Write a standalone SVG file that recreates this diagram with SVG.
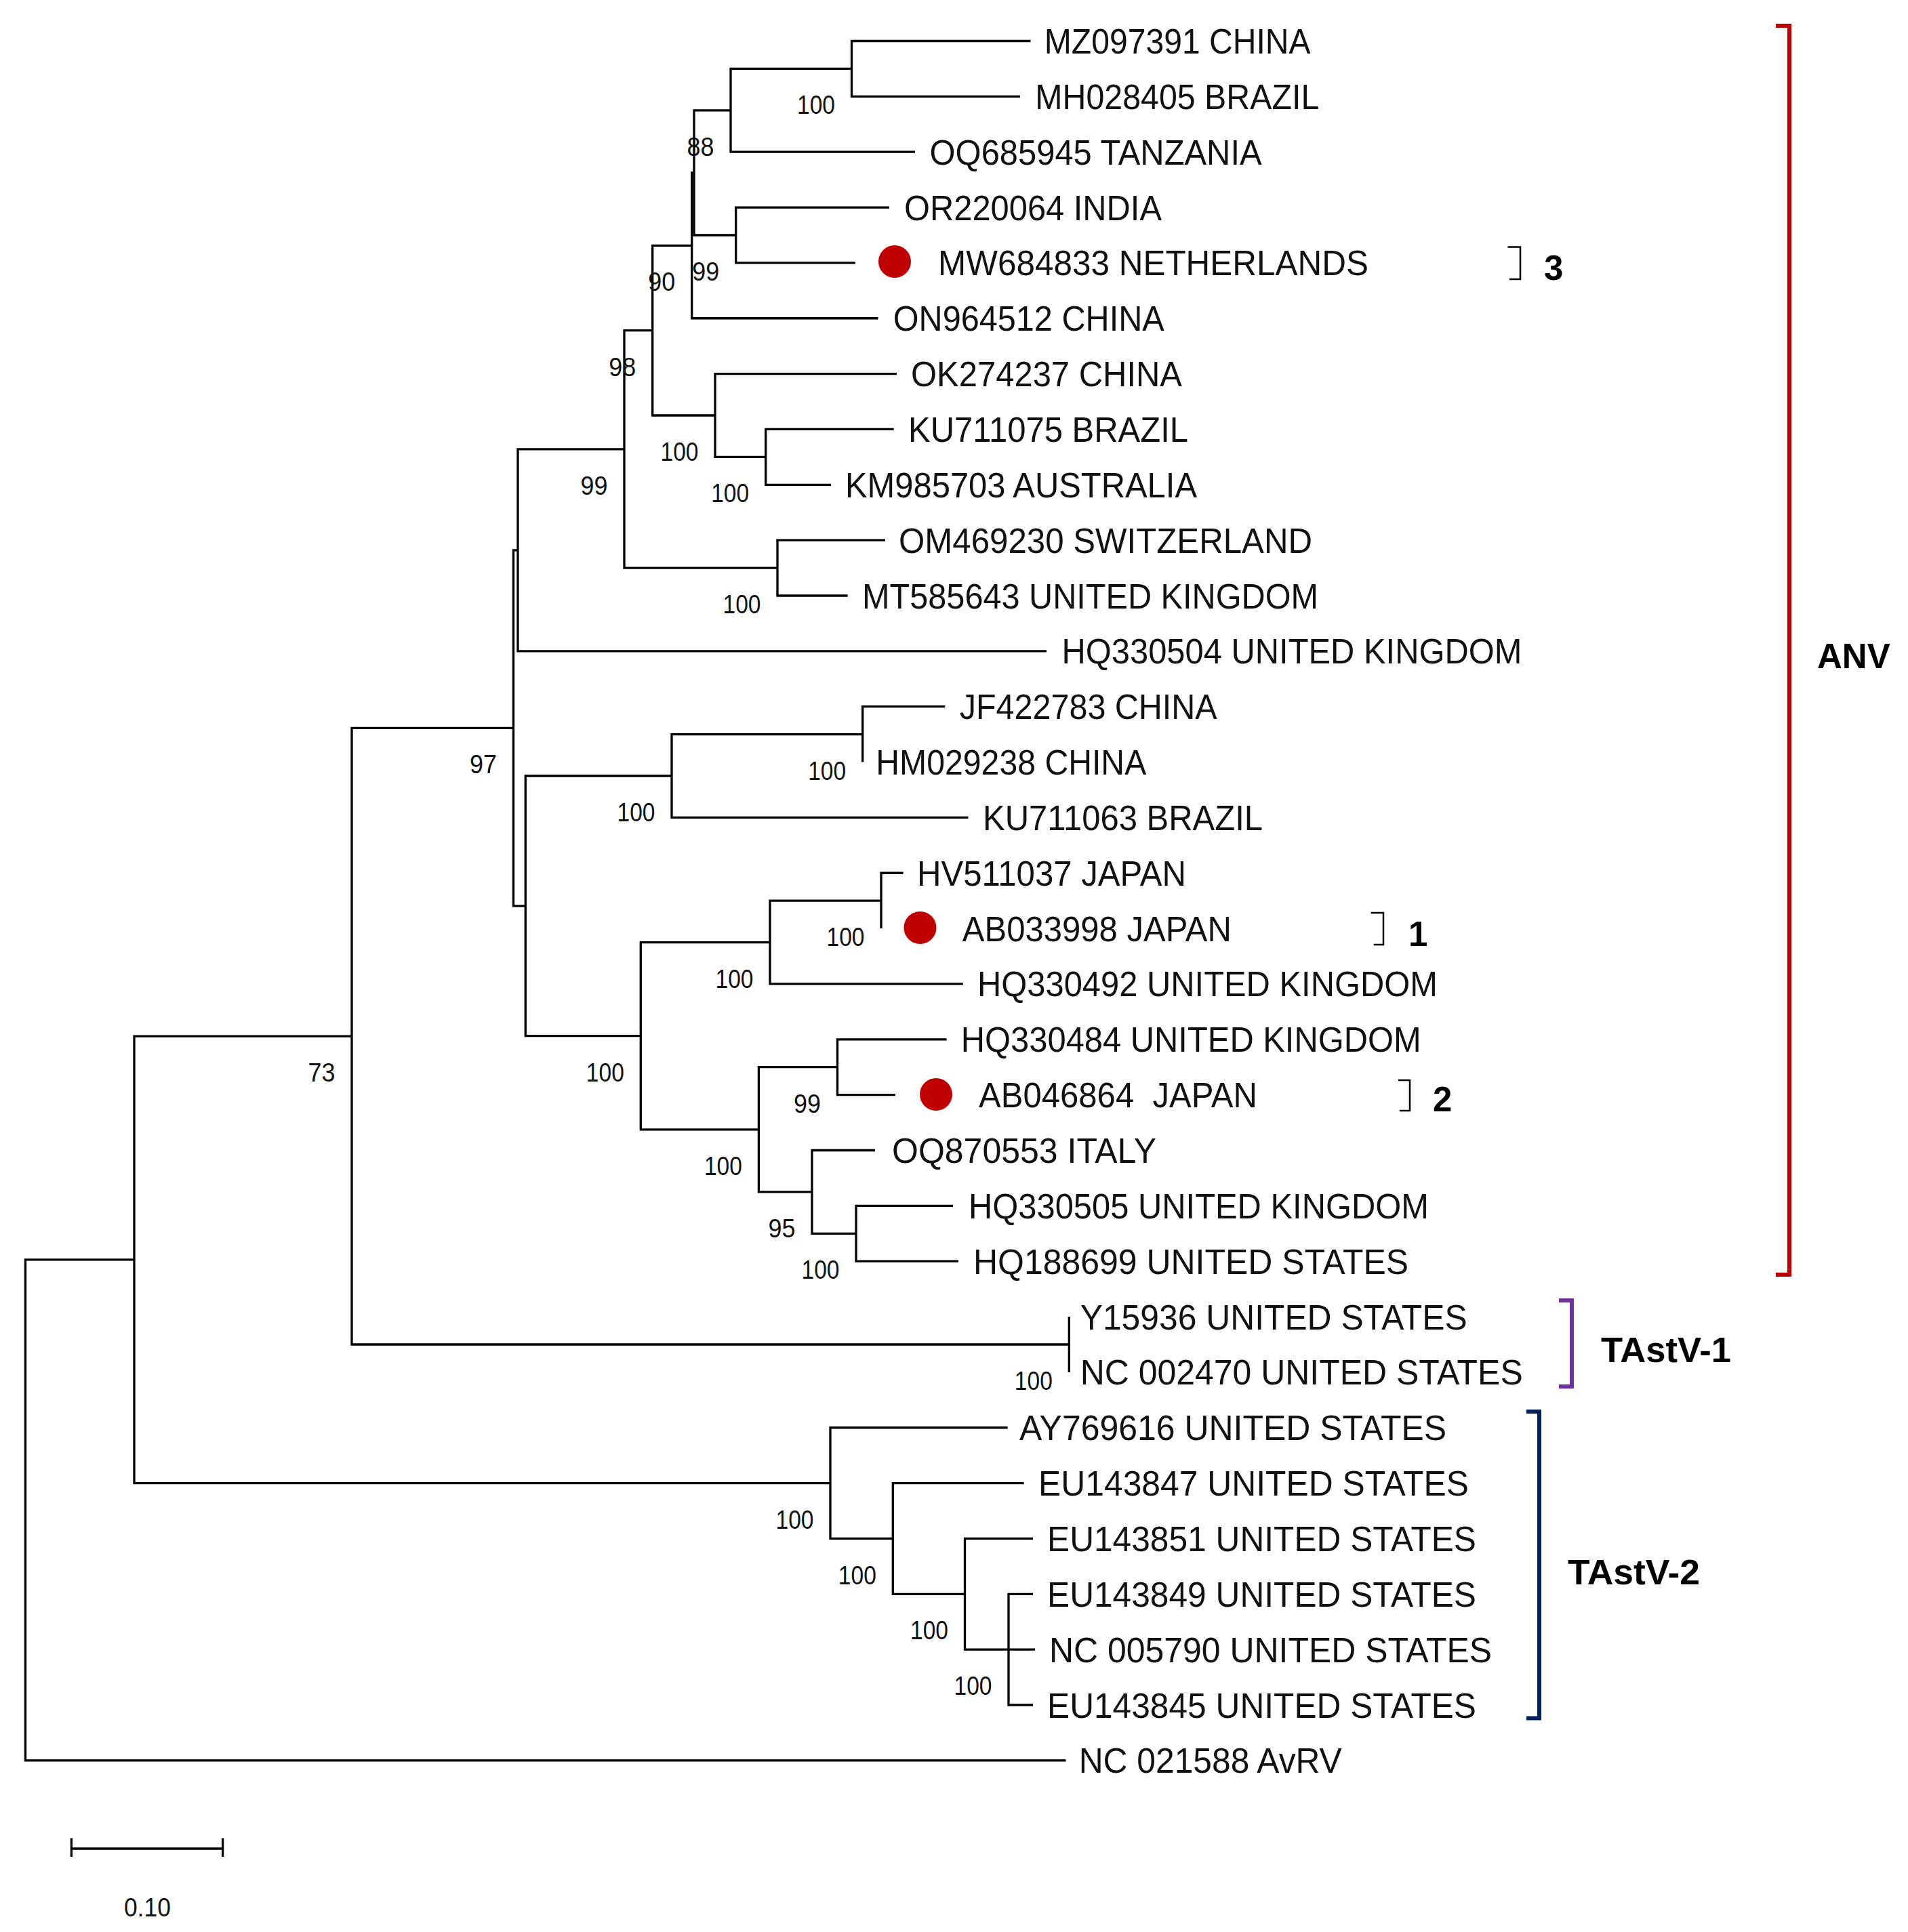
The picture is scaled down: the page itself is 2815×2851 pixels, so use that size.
<svg xmlns="http://www.w3.org/2000/svg" width="2815" height="2851" viewBox="0 0 2815 2851">
<style>
.br{fill:none;stroke:#000;stroke-width:3.3;stroke-linejoin:miter;stroke-linecap:butt}
.lf{font-family:"Liberation Sans",Arial,sans-serif;font-size:51px;fill:#111}
.bs{font-family:"Liberation Sans",Arial,sans-serif;font-size:38px;fill:#111;text-anchor:end}
.gl{font-family:"Liberation Sans",Arial,sans-serif;font-weight:bold;font-size:51px;fill:#000}
.dot{fill:#c00000}
.sb{fill:none;stroke:#000;stroke-width:2.5}
</style>
<rect width="2815" height="2851" fill="#fff"/>
<g id="connectors">
<path class="br" d="M1572.5 2597.85 H37.5 V1858.9 H198"/>
<path class="br" d="M519 1529.2 H198 V2188.6 H1225"/>
<path class="br" d="M757.5 1074.4 H519 V1984 H1577.3"/>
<path class="br" d="M1577.3 1943 V2025"/>
<path class="br" d="M1486.7 2106.75 H1225 V2270.45 H1317.3"/>
<path class="br" d="M1510.7 2188.6 H1317.3 V2352.3 H1423.5"/>
<path class="br" d="M1524 2270.45 H1423.5 V2434.15 H1488"/>
<path class="br" d="M1524 2352.3 H1488 V2516 H1524 M1488 2434.15 H1527"/>
<path class="br" d="M764 811.9 H757.5 V1336.9 H775.3"/>
<path class="br" d="M921 662.9 H764 V960.85 H1544"/>
<path class="br" d="M962.7 487.6 H921 V838.1 H1147"/>
<path class="br" d="M1020.7 362.3 H962.7 V613 H1055"/>
<path class="br" d="M1024 254.9 H1020.7 V469.75 H1295.5"/>
<path class="br" d="M1078 162.8 H1024 V347 H1085.7"/>
<path class="br" d="M1256.5 101.4 H1078 V224.2 H1350"/>
<path class="br" d="M1520.5 60.5 H1256.5 V142.35 H1505"/>
<path class="br" d="M1312 306.05 H1085.7 V387.9 H1262"/>
<path class="br" d="M1323 551.6 H1055 V674.4 H1129.7"/>
<path class="br" d="M1318.7 633.45 H1129.7 V715.3 H1226"/>
<path class="br" d="M1306 797.15 H1147 V879 H1250.7"/>
<path class="br" d="M991 1145 H775.3 V1528.7 H945.3"/>
<path class="br" d="M1272.7 1083.6 H991 V1206.4 H1428.5"/>
<path class="br" d="M1394.3 1042.7 H1272.7 V1124.55"/>
<path class="br" d="M1136 1390.6 H945.3 V1666.8 H1119.4"/>
<path class="br" d="M1300 1329.2 H1136 V1451.95 H1420.8"/>
<path class="br" d="M1332.5 1288.25 H1300 V1370.1"/>
<path class="br" d="M1235.5 1574.7 H1119.4 V1758.9 H1198"/>
<path class="br" d="M1396.6 1533.8 H1235.5 V1615.65 H1321"/>
<path class="br" d="M1291 1697.5 H1198 V1820.3 H1263"/>
<path class="br" d="M1406 1779.35 H1263 V1861.2 H1414"/>
</g>
<g id="bootstrap">
<text class="bs" x="1232" y="168.4" textLength="56" lengthAdjust="spacingAndGlyphs">100</text>
<text class="bs" x="1053.5" y="229.8" textLength="40" lengthAdjust="spacingAndGlyphs">88</text>
<text class="bs" x="1061.2" y="414" textLength="40" lengthAdjust="spacingAndGlyphs">99</text>
<text class="bs" x="996.2" y="429.3" textLength="40" lengthAdjust="spacingAndGlyphs">90</text>
<text class="bs" x="938.2" y="554.6" textLength="40" lengthAdjust="spacingAndGlyphs">98</text>
<text class="bs" x="896.5" y="729.9" textLength="40" lengthAdjust="spacingAndGlyphs">99</text>
<text class="bs" x="1030.5" y="680" textLength="56" lengthAdjust="spacingAndGlyphs">100</text>
<text class="bs" x="1105.2" y="741.4" textLength="56" lengthAdjust="spacingAndGlyphs">100</text>
<text class="bs" x="1122.5" y="905.1" textLength="56" lengthAdjust="spacingAndGlyphs">100</text>
<text class="bs" x="733" y="1141.4" textLength="40" lengthAdjust="spacingAndGlyphs">97</text>
<text class="bs" x="1248.2" y="1150.6" textLength="56" lengthAdjust="spacingAndGlyphs">100</text>
<text class="bs" x="966.5" y="1212" textLength="56" lengthAdjust="spacingAndGlyphs">100</text>
<text class="bs" x="1275.5" y="1396.2" textLength="56" lengthAdjust="spacingAndGlyphs">100</text>
<text class="bs" x="1111.5" y="1457.6" textLength="56" lengthAdjust="spacingAndGlyphs">100</text>
<text class="bs" x="920.8" y="1595.7" textLength="56" lengthAdjust="spacingAndGlyphs">100</text>
<text class="bs" x="494.5" y="1596.2" textLength="40" lengthAdjust="spacingAndGlyphs">73</text>
<text class="bs" x="1211" y="1641.7" textLength="40" lengthAdjust="spacingAndGlyphs">99</text>
<text class="bs" x="1094.9" y="1733.8" textLength="56" lengthAdjust="spacingAndGlyphs">100</text>
<text class="bs" x="1173.5" y="1825.9" textLength="40" lengthAdjust="spacingAndGlyphs">95</text>
<text class="bs" x="1238.5" y="1887.3" textLength="56" lengthAdjust="spacingAndGlyphs">100</text>
<text class="bs" x="1552.8" y="2051" textLength="56" lengthAdjust="spacingAndGlyphs">100</text>
<text class="bs" x="1200.5" y="2255.6" textLength="56" lengthAdjust="spacingAndGlyphs">100</text>
<text class="bs" x="1292.8" y="2337.5" textLength="56" lengthAdjust="spacingAndGlyphs">100</text>
<text class="bs" x="1399" y="2419.3" textLength="56" lengthAdjust="spacingAndGlyphs">100</text>
<text class="bs" x="1463.5" y="2501" textLength="56" lengthAdjust="spacingAndGlyphs">100</text>
</g>
<g id="leaves">
<g id="leaf-MZ097391"><text class="lf" x="1540.7" y="79" textLength="393" lengthAdjust="spacingAndGlyphs">MZ097391 CHINA</text></g>
<g id="leaf-MH028405"><text class="lf" x="1527.3" y="160.85" textLength="419" lengthAdjust="spacingAndGlyphs">MH028405 BRAZIL</text></g>
<g id="leaf-OQ685945"><text class="lf" x="1371.6" y="242.7" textLength="490" lengthAdjust="spacingAndGlyphs">OQ685945 TANZANIA</text></g>
<g id="leaf-OR220064"><text class="lf" x="1334" y="324.55" textLength="380" lengthAdjust="spacingAndGlyphs">OR220064 INDIA</text></g>
<g id="leaf-MW684833"><circle class="dot" cx="1320" cy="386" r="24"/><text class="lf" x="1384" y="406.4" textLength="635" lengthAdjust="spacingAndGlyphs">MW684833 NETHERLANDS</text></g>
<g id="leaf-ON964512"><text class="lf" x="1317.7" y="488.25" textLength="400" lengthAdjust="spacingAndGlyphs">ON964512 CHINA</text></g>
<g id="leaf-OK274237"><text class="lf" x="1344" y="570.1" textLength="400" lengthAdjust="spacingAndGlyphs">OK274237 CHINA</text></g>
<g id="leaf-KU711075"><text class="lf" x="1340" y="651.95" textLength="413" lengthAdjust="spacingAndGlyphs">KU711075 BRAZIL</text></g>
<g id="leaf-KM985703"><text class="lf" x="1247" y="733.8" textLength="519" lengthAdjust="spacingAndGlyphs">KM985703 AUSTRALIA</text></g>
<g id="leaf-OM469230"><text class="lf" x="1326" y="815.65" textLength="610" lengthAdjust="spacingAndGlyphs">OM469230 SWITZERLAND</text></g>
<g id="leaf-MT585643"><text class="lf" x="1272" y="897.5" textLength="673" lengthAdjust="spacingAndGlyphs">MT585643 UNITED KINGDOM</text></g>
<g id="leaf-HQ330504"><text class="lf" x="1566.5" y="979.35" textLength="679" lengthAdjust="spacingAndGlyphs">HQ330504 UNITED KINGDOM</text></g>
<g id="leaf-JF422783"><text class="lf" x="1415.7" y="1061.2" textLength="380" lengthAdjust="spacingAndGlyphs">JF422783 CHINA</text></g>
<g id="leaf-HM029238"><text class="lf" x="1292.3" y="1143.05" textLength="399" lengthAdjust="spacingAndGlyphs">HM029238 CHINA</text></g>
<g id="leaf-KU711063"><text class="lf" x="1450" y="1224.9" textLength="413" lengthAdjust="spacingAndGlyphs">KU711063 BRAZIL</text></g>
<g id="leaf-HV511037"><text class="lf" x="1353" y="1306.75" textLength="397" lengthAdjust="spacingAndGlyphs">HV511037 JAPAN</text></g>
<g id="leaf-AB033998"><circle class="dot" cx="1357.5" cy="1369" r="24"/><text class="lf" x="1419.8" y="1388.6" textLength="397" lengthAdjust="spacingAndGlyphs">AB033998 JAPAN</text></g>
<g id="leaf-HQ330492"><text class="lf" x="1442" y="1470.45" textLength="679" lengthAdjust="spacingAndGlyphs">HQ330492 UNITED KINGDOM</text></g>
<g id="leaf-HQ330484"><text class="lf" x="1417.8" y="1552.3" textLength="679" lengthAdjust="spacingAndGlyphs">HQ330484 UNITED KINGDOM</text></g>
<g id="leaf-AB046864"><circle class="dot" cx="1381" cy="1615" r="24"/><text class="lf" x="1444" y="1634.15" style="white-space:pre" textLength="411" lengthAdjust="spacingAndGlyphs">AB046864  JAPAN</text></g>
<g id="leaf-OQ870553"><text class="lf" x="1316" y="1716" textLength="390" lengthAdjust="spacingAndGlyphs">OQ870553 ITALY</text></g>
<g id="leaf-HQ330505"><text class="lf" x="1429" y="1797.85" textLength="679" lengthAdjust="spacingAndGlyphs">HQ330505 UNITED KINGDOM</text></g>
<g id="leaf-HQ188699"><text class="lf" x="1436" y="1879.7" textLength="642" lengthAdjust="spacingAndGlyphs">HQ188699 UNITED STATES</text></g>
<g id="leaf-Y15936"><text class="lf" x="1593.7" y="1961.55" textLength="571" lengthAdjust="spacingAndGlyphs">Y15936 UNITED STATES</text></g>
<g id="leaf-NC002470"><text class="lf" x="1593.7" y="2043.4" textLength="653" lengthAdjust="spacingAndGlyphs">NC 002470 UNITED STATES</text></g>
<g id="leaf-AY769616"><text class="lf" x="1504" y="2125.25" textLength="630" lengthAdjust="spacingAndGlyphs">AY769616 UNITED STATES</text></g>
<g id="leaf-EU143847"><text class="lf" x="1532" y="2207.1" textLength="635" lengthAdjust="spacingAndGlyphs">EU143847 UNITED STATES</text></g>
<g id="leaf-EU143851"><text class="lf" x="1545" y="2288.95" textLength="633" lengthAdjust="spacingAndGlyphs">EU143851 UNITED STATES</text></g>
<g id="leaf-EU143849"><text class="lf" x="1545" y="2370.8" textLength="633" lengthAdjust="spacingAndGlyphs">EU143849 UNITED STATES</text></g>
<g id="leaf-NC005790"><text class="lf" x="1548" y="2452.65" textLength="653" lengthAdjust="spacingAndGlyphs">NC 005790 UNITED STATES</text></g>
<g id="leaf-EU143845"><text class="lf" x="1545" y="2534.5" textLength="633" lengthAdjust="spacingAndGlyphs">EU143845 UNITED STATES</text></g>
<g id="leaf-NC021588"><text class="lf" x="1591.7" y="2616.35" textLength="388" lengthAdjust="spacingAndGlyphs">NC 021588 AvRV</text></g>
</g>
<g id="marks">
<g id="mark-3"><path class="sb" d="M2224.5 364.5 H2243 V412 H2227"/><text class="gl" x="2278" y="413">3</text></g>
<g id="mark-1"><path class="sb" d="M2022.7 1347 H2041 V1394 H2026.7"/><text class="gl" x="2078" y="1396">1</text></g>
<g id="mark-2"><path class="sb" d="M2063 1594 H2080 V1639 H2065"/><text class="gl" x="2114" y="1640">2</text></g>
</g>
<g id="clades">
<g id="clade-ANV"><path d="M2620 38 H2640 V1881 H2620" fill="none" stroke="#c00000" stroke-width="6"/><text class="gl" x="2681" y="985.6">ANV</text></g>
<g id="clade-TAstV-1"><path d="M2300 1919 H2319 V2046 H2300" fill="none" stroke="#7030a0" stroke-width="6"/><text class="gl" x="2362" y="2010" textLength="192" lengthAdjust="spacingAndGlyphs">TAstV-1</text></g>
<g id="clade-TAstV-2"><path d="M2252 2083 H2271 V2535.6 H2252" fill="none" stroke="#002060" stroke-width="6"/><text class="gl" x="2313" y="2338" textLength="195" lengthAdjust="spacingAndGlyphs">TAstV-2</text></g>
</g>
<g id="scale-bar">
<path class="br" d="M105.4 2728 H328.6 M105.4 2712.6 V2740 M328.6 2712.6 V2740" stroke-width="3"/>
<text class="bs" x="217.4" y="2828" style="text-anchor:middle" textLength="69" lengthAdjust="spacingAndGlyphs">0.10</text>
</g>
</svg>
